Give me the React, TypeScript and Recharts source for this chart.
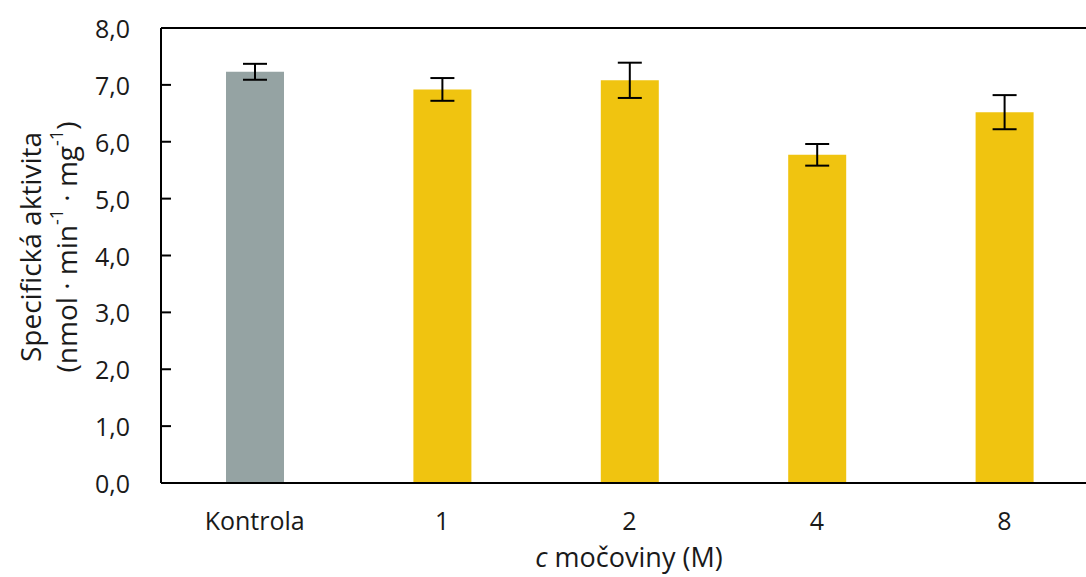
import {
  BarChart,
  Bar,
  Cell,
  XAxis,
  YAxis,
  ErrorBar,
  ReferenceLine,
  Label,
} from "recharts"

const categories = ["Kontrola", "1", "2", "4", "8"]
const activity = [7.23, 6.92, 7.08, 5.77, 6.52]
const errors = [0.14, 0.2, 0.31, 0.19, 0.3]
const yTicks = [0, 1, 2, 3, 4, 5, 6, 7, 8]

const GRAY = "#95A3A3"
const YELLOW = "#F0C410"
const FONT = "'Open Sans', sans-serif"
const INK = "#1a1a1a"

const data = categories.map((c, i) => ({
  name: c,
  value: activity[i],
  err: errors[i],
}))

/* y ticks — inward tick marks, comma decimals */
function YTick(props: { x?: number; y?: number; payload?: { value: number } }) {
  const y = props.y ?? 0
  const v = props.payload?.value ?? 0
  return (
    <g>
      {v < 8 && <line x1={161} x2={171} y1={y} y2={y} stroke="#000" strokeWidth={2} />}
      <text
        x={130}
        y={y}
        textAnchor="end"
        dominantBaseline="central"
        fontFamily={FONT}
        fontSize={25}
        fill={INK}
      >
        {v.toFixed(1).replace(".", ",")}
      </text>
    </g>
  )
}

function XTick(props: { x?: number; y?: number; payload?: { value: string } }) {
  const x = props.x ?? 0
  return (
    <text
      x={x}
      y={520}
      textAnchor="middle"
      dominantBaseline="central"
      fontFamily={FONT}
      fontSize={25}
      fill={INK}
    >
      {props.payload?.value}
    </text>
  )
}

function YLabel() {
  const cy = 247
  return (
    <g>
      <text
        x={30}
        y={cy}
        transform={`rotate(-90 30 ${cy})`}
        textAnchor="middle"
        dominantBaseline="central"
        fontFamily={FONT}
        fontSize={28}
        fill={INK}
      >
        Specifická aktivita
      </text>
      <text
        x={66}
        y={cy}
        transform={`rotate(-90 66 ${cy})`}
        textAnchor="middle"
        dominantBaseline="central"
        fontFamily={FONT}
        fontSize={28}
        fill={INK}
      >
        (nmol · min<tspan dy={-10} fontSize={18}>-1</tspan>
        <tspan dy={10}> · mg</tspan>
        <tspan dy={-10} fontSize={18}>-1</tspan>
        <tspan dy={10}>)</tspan>
      </text>
    </g>
  )
}

function XLabel() {
  return (
    <text
      x={629}
      y={556}
      textAnchor="middle"
      dominantBaseline="central"
      fontFamily={FONT}
      fontSize={27}
      fill={INK}
    >
      <tspan fontStyle="italic">c</tspan> močoviny (M)
    </text>
  )
}

export default function App() {
  return (
    <div
      style={{
        position: "absolute",
        left: 0,
        top: 0,
        width: 1086,
        height: 577,
        overflow: "hidden",
        background: "#fff",
      }}
    >
      <BarChart
        width={1100}
        height={577}
        data={data}
        margin={{ top: 28, right: 2, bottom: 34, left: 0 }}
        barSize={58}
      >
        <XAxis
          dataKey="name"
          axisLine={{ stroke: "#000", strokeWidth: 2 }}
          tickLine={false}
          tick={<XTick />}
          height={60}
          interval={0}
        >
          <Label content={<XLabel />} />
        </XAxis>
        <YAxis
          domain={[0, 8]}
          ticks={yTicks}
          width={161}
          axisLine={{ stroke: "#000", strokeWidth: 2 }}
          tickLine={false}
          tick={<YTick />}
          interval={0}
        >
          <Label content={<YLabel />} />
        </YAxis>
        <ReferenceLine y={8} stroke="#000" strokeWidth={2} ifOverflow="visible" />
        <Bar dataKey="value" isAnimationActive={false}>
          {data.map((d, i) => (
            <Cell key={d.name} fill={i === 0 ? GRAY : YELLOW} />
          ))}
          <ErrorBar
            dataKey="err"
            width={12}
            stroke="#000"
            strokeWidth={2}
            isAnimationActive={false}
          />
        </Bar>
      </BarChart>
    </div>
  )
}
